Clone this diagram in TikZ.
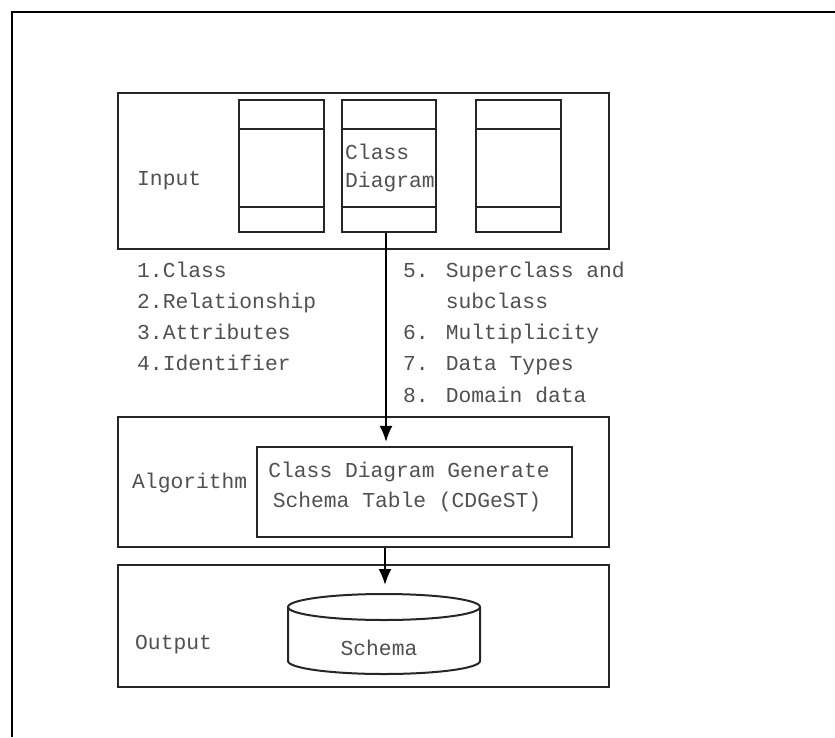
\documentclass[tikz,border=0pt]{standalone}
\usepackage{fontspec}
\setmainfont{Liberation Mono}
\usetikzlibrary{arrows.meta}
\definecolor{linec}{HTML}{262626}
\definecolor{txtc}{HTML}{505050}
\begin{document}
\begin{tikzpicture}[x=1pt,y=-1pt,
  frame/.style={draw=linec, line width=2.2pt, inner sep=0pt, fill=none},
  lbl/.style={inner sep=0pt, anchor=base west, text=txtc, font=\fontsize{21.3}{28}\selectfont},
  clbl/.style={lbl, anchor=base},
  arr/.style={draw=black, line width=2pt, -{Latex[length=16pt,width=13pt]}}]
\useasboundingbox (0,0) rectangle (835,737);
\fill[white] (0,0) rectangle (835,737);
\draw[line width=2.4pt, black] (12,737) -- (12,12) -- (835,12);

% Input section
\node[frame, minimum width=491pt, minimum height=156pt] (input) at (363.5,171) {};
\node[lbl] (inputlbl) at (137,185) {Input};
\foreach \n/\cx/\w in {c1/281.5/85, c2/389/94, c3/518.5/85}{
  \node[frame, minimum width=\w pt, minimum height=132pt] (\n) at (\cx,166) {};
  \draw[linec, line width=2.2pt] ([yshift=-30pt]\n.north west) -- ([yshift=-30pt]\n.north east);
  \draw[linec, line width=2.2pt] ([yshift=26pt]\n.south west) -- ([yshift=26pt]\n.south east);
}
\node[lbl] (cd1) at (345,159) {Class};
\node[lbl] (cd2) at (345,187) {Diagram};

% lists
\node[lbl] (la1) at (137,277) {1.Class};
\node[lbl] (la2) at (137,308) {2.Relationship};
\node[lbl] (la3) at (137,339) {3.Attributes};
\node[lbl] (la4) at (137,370) {4.Identifier};
\node[lbl] (lb1) at (403,277) {5. Superclass and};
\node[lbl] (lb2) at (403,308) {\hphantom{5. }subclass};
\node[lbl] (lb3) at (403,339) {6. Multiplicity};
\node[lbl] (lb4) at (403,370) {7. Data Types};
\node[lbl] (lb5) at (403,402) {8. Domain data};

% Algorithm section
\node[frame, minimum width=491pt, minimum height=130pt] (algo) at (363.5,482) {};
\node[lbl] (algolbl) at (132,488) {Algorithm};
\node[frame, minimum width=315pt, minimum height=90pt] (inner) at (414.5,492) {};
\node[clbl] (it1) at (409,477) {Class Diagram Generate};
\node[clbl] (it2) at (407,507) {Schema Table (CDGeST)};

% Output section
\node[frame, minimum width=491pt, minimum height=122pt] (output) at (363.5,626) {};
\node[lbl] (outlbl) at (135,649) {Output};
\draw[linec, line width=2pt] (384,607) ellipse [x radius=96pt, y radius=13pt];
\draw[linec, line width=2pt] (288,607) -- (288,661)
  arc[start angle=180, end angle=360, x radius=96pt, y radius=13pt] -- (480,607);
\coordinate (cyltop) at (385,594);
\node[clbl] (schema) at (379,655) {Schema};

% arrows
\draw[arr, shorten >=4pt] ([xshift=-3pt]c2.south) -- ([xshift=-3pt]c2.south |- inner.north);
\draw[arr, shorten >=9pt] (algo.south -| cyltop) -- (cyltop);
\end{tikzpicture}
\end{document}
